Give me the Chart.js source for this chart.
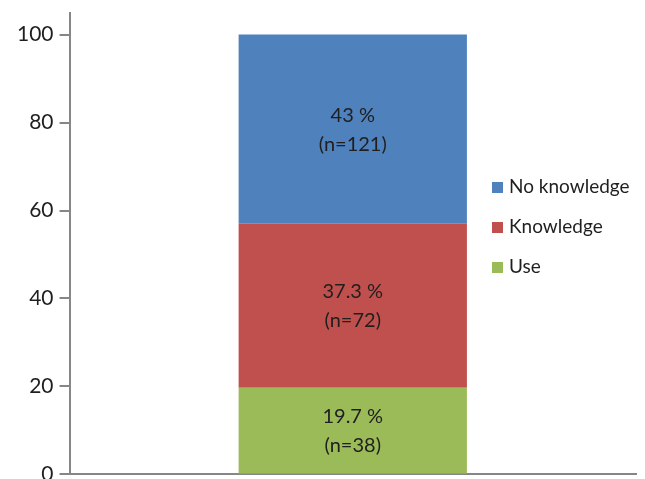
<!DOCTYPE html>
<html>
<head>
<meta charset="utf-8">
<script src="https://cdn.jsdelivr.net/npm/chart.js@4"></script>
<style>
  html, body { margin: 0; padding: 0; background: #fff; overflow: hidden; }
  #wrap { position: relative; width: 645px; height: 499px; margin-top: -6px; }
</style>
</head>
<body>
<div id="wrap"><canvas id="chart"></canvas></div>
<script>
const categories = [''];
const seriesNames = ['Use', 'Knowledge', 'No knowledge'];
const seriesColors = ['#9BBB59', '#C0504D', '#4F81BD'];
const useValues = [19.7];
const knowledgeValues = [37.3];
const noKnowledgeValues = [43];
const useCounts = [38];
const knowledgeCounts = [72];
const noKnowledgeCounts = [121];
const yTicks = [0, 20, 40, 60, 80, 100];

const FONT = "'Lato', 'Open Sans', sans-serif";
const AXIS = '#868686';
const TEXT = '#1f1f1f';

const segmentLabels = {
  id: 'segmentLabels',
  afterDatasetsDraw(chart) {
    const { ctx } = chart;
    ctx.save();
    ctx.font = `20px ${FONT}`;
    ctx.fillStyle = TEXT;
    ctx.textAlign = 'center';
    ctx.textBaseline = 'middle';
    chart.data.datasets.forEach((ds, i) => {
      const meta = chart.getDatasetMeta(i);
      meta.data.forEach((bar, j) => {
        const cy = (bar.y + bar.base) / 2;
        ctx.fillText(`${ds.data[j]} %`, bar.x, cy - 14);
        ctx.fillText(`(n=${ds.counts[j]})`, bar.x, cy + 15);
      });
    });
    ctx.restore();
  }
};

// legend sits inside the plot, right of the bar
const sideLegend = {
  id: 'sideLegend',
  afterDraw(chart) {
    const { ctx } = chart;
    const items = chart.data.datasets.slice().reverse();
    ctx.save();
    ctx.font = `19px ${FONT}`;
    ctx.textBaseline = 'middle';
    items.forEach((ds, k) => {
      const y = 193 + k * 40;
      ctx.fillStyle = ds.backgroundColor;
      ctx.fillRect(492, y - 5, 11, 11);
      ctx.fillStyle = TEXT;
      ctx.fillText(ds.label, 509, y);
    });
    ctx.restore();
  }
};

new Chart(document.getElementById('chart'), {
  type: 'bar',
  data: {
    labels: categories,
    datasets: [
      { label: seriesNames[0], data: useValues, counts: useCounts, backgroundColor: seriesColors[0] },
      { label: seriesNames[1], data: knowledgeValues, counts: knowledgeCounts, backgroundColor: seriesColors[1] },
      { label: seriesNames[2], data: noKnowledgeValues, counts: noKnowledgeCounts, backgroundColor: seriesColors[2] }
    ].map(ds => ({ ...ds, borderWidth: 0, categoryPercentage: 1, barPercentage: 0.403 }))
  },
  options: {
    responsive: true,
    maintainAspectRatio: false,
    animation: false,
    layout: { padding: { left: 11, right: 9, top: 0, bottom: 0 } },
    plugins: { legend: { display: false }, tooltip: { enabled: false } },
    scales: {
      x: {
        stacked: true,
        grid: { display: false },
        ticks: { display: false },
        border: { color: AXIS, width: 2 }
      },
      y: {
        stacked: true,
        min: 0,
        max: 105,
        afterBuildTicks: scale => { scale.ticks = yTicks.map(v => ({ value: v })); },
        grid: { drawOnChartArea: false, tickLength: 10, color: AXIS, lineWidth: 2 },
        border: { color: AXIS, width: 2 },
        ticks: { padding: 6, color: TEXT, font: { family: FONT, size: 21 } }
      }
    }
  },
  plugins: [segmentLabels, sideLegend]
});
</script>
</body>
</html>
